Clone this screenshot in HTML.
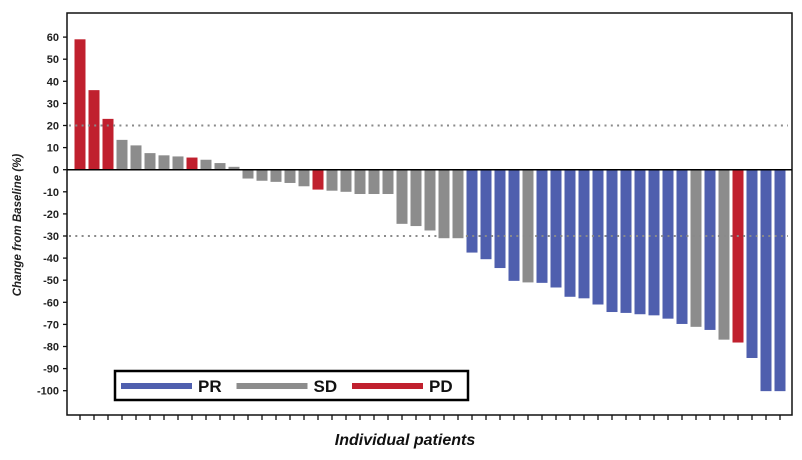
<!DOCTYPE html>
<html><head><meta charset="utf-8"><style>
html,body{margin:0;padding:0;background:#fff;}
svg{display:block;font-family:"Liberation Sans",Arial,sans-serif;}
</style></head><body>
<svg id="chart" width="802" height="460" viewBox="0 0 802 460">
<g id="bars"></g>
<g id="refs"></g>
<g id="axes"></g>
</svg>
<script>
const values = [59,36,23,13.5,11,7.5,6.5,6,5.5,4.5,3,1.3,-4,-5,-5.5,-6,-7.5,-9,-9.5,-10,-11,-11,-11,-24.5,-25.5,-27.5,-31,-31,-37.5,-40.5,-44.5,-50.3,-51,-51.2,-53.3,-57.5,-58.2,-61,-64.4,-64.8,-65.4,-65.9,-67.4,-69.8,-71.1,-72.5,-76.9,-78.2,-85.2,-100.2,-100.2];
const responses = ["PD","PD","PD","SD","SD","SD","SD","SD","PD","SD","SD","SD","SD","SD","SD","SD","SD","PD","SD","SD","SD","SD","SD","SD","SD","SD","SD","SD","PR","PR","PR","PR","SD","PR","PR","PR","PR","PR","PR","PR","PR","PR","PR","PR","SD","PR","SD","PD","PR","PR","PR"];
const yTicks = [60,50,40,30,20,10,0,-10,-20,-30,-40,-50,-60,-70,-80,-90,-100];
const refLines = [20,-30];
const legendItems = ["PR","SD","PD"];
const colors = {PR:"#4f5fae",SD:"#8c8c8c",PD:"#c0202e"};

const NS="http://www.w3.org/2000/svg";
const L=67,R=792,T=13,B=415;
const y0=169.7, pxPer=2.21;
function yS(v){return y0 - v*pxPer;}
function xS(i){return 80 + i*14;}
function mk(tag,attrs,parent){const e=document.createElementNS(NS,tag);for(const k in attrs)e.setAttribute(k,attrs[k]);parent.appendChild(e);return e;}
const gb=document.getElementById('bars');
const gr=document.getElementById('refs');
const ga=document.getElementById('axes');

values.forEach((v,i)=>{
  const y1=yS(Math.max(v,0)), y2=yS(Math.min(v,0));
  const r=mk('rect',{x:xS(i)-5.5,y:y1,width:11,height:y2-y1,fill:colors[responses[i]]},gb);
  
  
});
refLines.forEach(v=>{
  const l=mk('line',{x1:L+2,x2:R-4,y1:yS(v),y2:yS(v),stroke:'#8a8a8a','stroke-width':2,'stroke-dasharray':'2 4.3'},gr);
  
  
});
const f=mk('rect',{x:L,y:T,width:R-L,height:B-T,fill:'none',stroke:'#111','stroke-width':1.5},ga);


const z=mk('line',{x1:L,x2:R,y1:y0,y2:y0,stroke:'#000','stroke-width':1.5},ga);


yTicks.forEach(v=>{
  const t=mk('line',{x1:L-4,x2:L,y1:yS(v),y2:yS(v),stroke:'#111','stroke-width':1.3},ga);
  
  
  const tx=mk('text',{x:L-8,y:yS(v)+4,'text-anchor':'end','font-size':11,'font-weight':'bold',fill:'#222'},ga);
  tx.textContent=v;
  
  
});
values.forEach((v,i)=>{
  const t=mk('line',{x1:xS(i),x2:xS(i),y1:B,y2:B+5,stroke:'#111','stroke-width':1.3},ga);
  
  
});
const yt=mk('text',{x:0,y:0,transform:'translate(21,225) rotate(-90)','text-anchor':'middle','font-size':11.5,'font-weight':'bold','font-style':'italic',fill:'#222'},ga);
yt.textContent='Change from Baseline (%)';


const xt=mk('text',{x:405,y:445,'text-anchor':'middle','font-size':16,'font-weight':'bold','font-style':'italic',fill:'#111'},ga);
xt.textContent='Individual  patients';


const lg=mk('g',{},ga);


const lb=mk('rect',{x:115,y:371,width:353,height:29,fill:'#fff',stroke:'#000','stroke-width':2.5},lg);


legendItems.forEach((k,i)=>{
  const x0=121+i*115.5;
  const sw=mk('rect',{x:x0,y:383,width:71,height:6,fill:colors[k]},lg);
  
  
  const tx=mk('text',{x:x0+77,y:392,'font-size':17,'font-weight':'bold',fill:'#111'},lg);
  tx.textContent=k;
  
  
});
</script>
</body></html>
